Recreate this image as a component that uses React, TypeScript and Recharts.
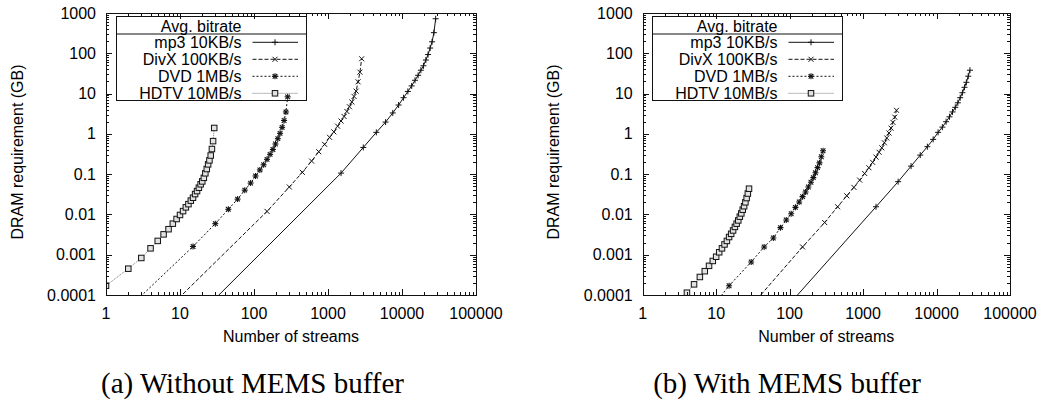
// DRAM requirement vs number of streams, without / with MEMS buffer (log-log, gnuplot look)
import React from "react"
import { LineChart, Line, XAxis, YAxis } from "recharts"

// number of streams per series (first point sits below the plotted range)
const streamsHdtvA = [1, 2, 3, 4, 5, 6, 7, 8, 9, 10, 11, 12, 13, 14, 15, 16, 17, 18, 19, 20, 21, 22, 23, 24, 25, 26, 27, 28, 29]
const streamsHdtvB = [3, 4, 5, 6, 7, 8, 9, 10, 11, 12, 13, 14, 15, 16, 17, 18, 19, 20, 21, 22, 23, 24, 25, 26, 27, 28]
const streamsDvd = [1, 15, 30, 45, 60, 75, 90, 105, 120, 135, 150, 165, 180, 195, 210, 225, 240, 255, 270, 285]
const streamsDivx = [1, 150, 300, 450, 600, 750, 900, 1050, 1200, 1350, 1500, 1650, 1800, 1950, 2100, 2250, 2400, 2550, 2700, 2850]
const streamsMp3 = [1, 1500, 3000, 4500, 6000, 7500, 9000, 10500, 12000, 13500, 15000, 16500, 18000, 19500, 21000, 22500, 24000, 25500, 27000, 28500]

// (a) without MEMS buffer, GB
const mp3A = [1.6e-7, 0.106, 0.46, 1.09, 1.96, 3.3, 5.2, 7.9, 11.3, 15.5, 21.4, 28.4, 38, 49, 68, 93, 135, 193, 325, 720]
const divxA = [1.4e-6, 0.0119, 0.048, 0.111, 0.211, 0.36, 0.55, 0.82, 1.12, 1.55, 2.08, 2.7, 3.6, 4.7, 6.2, 8.5, 11.5, 19.6, 34, 73]
const dvdA = [1.4e-5, 0.0016, 0.0059, 0.0134, 0.024, 0.04, 0.06, 0.09, 0.127, 0.171, 0.233, 0.31, 0.41, 0.56, 0.76, 1.03, 1.45, 2.15, 3.5, 8.3]
const hdtvA = [1.7e-4, 4.5e-4, 8.3e-4, 1.44e-3, 2.2e-3, 3.2e-3, 4.3e-3, 5.9e-3, 7.7e-3, 9.7e-3, 0.0121, 0.015, 0.018, 0.022, 0.026, 0.032, 0.038, 0.046, 0.056, 0.066, 0.081, 0.105, 0.134, 0.175, 0.22, 0.29, 0.42, 0.66, 1.4]

// (b) with MEMS buffer, GB
const mp3B = [4.8e-9, 0.0155, 0.065, 0.158, 0.297, 0.48, 0.73, 1.09, 1.47, 2.0, 2.65, 3.5, 4.55, 5.9, 7.9, 10.5, 14.3, 19, 27, 38]
const divxB = [4.3e-8, 0.00156, 0.0063, 0.0155, 0.029, 0.047, 0.071, 0.104, 0.144, 0.196, 0.265, 0.35, 0.45, 0.6, 0.79, 1.05, 1.39, 1.93, 2.6, 3.85]
const dvdB = [3e-7, 1.7e-4, 6.6e-4, 0.00156, 0.0026, 0.0047, 0.0073, 0.0104, 0.015, 0.0204, 0.0276, 0.036, 0.048, 0.063, 0.082, 0.108, 0.145, 0.19, 0.27, 0.38]
const hdtvB = [6.5e-5, 1.14e-4, 1.84e-4, 2.8e-4, 3.9e-4, 5.3e-4, 7e-4, 8.9e-4, 1.15e-3, 1.44e-3, 1.8e-3, 2.2e-3, 2.75e-3, 3.3e-3, 4.0e-3, 4.9e-3, 5.9e-3, 7.1e-3, 8.8e-3, 0.0106, 0.0131, 0.016, 0.02, 0.0255, 0.033, 0.0435]

const labels = ["mp3 10KB/s", "DivX 100KB/s", "DVD 1MB/s", "HDTV 10MB/s"]

const X_DOMAIN = [1, 100000]
const Y_DOMAIN = [0.0001, 1000]
const xDecades = [1, 10, 100, 1000, 10000, 100000]
const yDecades = [0.0001, 0.001, 0.01, 0.1, 1, 10, 100, 1000]
const minorSteps = [2, 3, 4, 5, 6, 7, 8, 9]

const withMinor = (dec: number[]) =>
  dec.flatMap((d, i) => (i < dec.length - 1 ? [d, ...minorSteps.map(m => d * m)] : [d]))
const xTicks = withMinor(xDecades)
const yTicks = withMinor(yDecades)

const SANS = "'Liberation Sans', Arial, Helvetica, sans-serif"
const SERIF = "'Liberation Serif', 'Times New Roman', serif"
const INK = "#111"

// chart geometry (shared by the LineChart margins and the border overlay)
const CH_H = 350
const M_TOP = 13
const M_BOTTOM = 25
const X_AXIS_H = 30
const Y_AXIS_W = 60
const PLOT_H = CH_H - M_TOP - M_BOTTOM - X_AXIS_H

type Style = { dash?: string; color: string; marker: string }
const STYLES: Style[] = [
  { color: INK, marker: "plus" },
  { color: INK, dash: "4 2", marker: "cross" },
  { color: INK, dash: "2 2", marker: "star" },
  { color: "#777", dash: "1 1", marker: "square" },
]

function Marker({ cx, cy, kind }: { cx: number; cy: number; kind: string }) {
  if (cx == null || cy == null || !isFinite(cx) || !isFinite(cy)) return null
  const s = 3
  if (kind === "plus")
    return (
      <g stroke={INK} strokeWidth={1}>
        <line x1={cx - s} x2={cx + s} y1={cy} y2={cy} />
        <line x1={cx} x2={cx} y1={cy - s} y2={cy + s} />
      </g>
    )
  if (kind === "cross")
    return (
      <g stroke={INK} strokeWidth={1}>
        <line x1={cx - 2.5} x2={cx + 2.5} y1={cy - 2.5} y2={cy + 2.5} />
        <line x1={cx - 2.5} x2={cx + 2.5} y1={cy + 2.5} y2={cy - 2.5} />
      </g>
    )
  if (kind === "star")
    return (
      <g stroke={INK} strokeWidth={1.1}>
        <line x1={cx - s} x2={cx + s} y1={cy} y2={cy} />
        <line x1={cx} x2={cx} y1={cy - s} y2={cy + s} />
        <line x1={cx - 2.3} x2={cx + 2.3} y1={cy - 2.3} y2={cy + 2.3} />
        <line x1={cx - 2.3} x2={cx + 2.3} y1={cy + 2.3} y2={cy - 2.3} />
      </g>
    )
  return <rect x={cx - 2.75} y={cy - 2.75} width={5.5} height={5.5} fill="#e2e2e2" stroke={INK} strokeWidth={1} />
}

function BottomLabel(p: any) {
  return (
    <text x={p.x} y={p.y + 18} textAnchor="middle" dominantBaseline="central" fontFamily={SANS} fontSize={16} fill="#000">
      {String(p.payload.value)}
    </text>
  )
}

function LeftLabel(p: any) {
  return (
    <text x={p.x - 10} y={p.y} textAnchor="end" dominantBaseline="central" fontFamily={SANS} fontSize={16} fill="#000">
      {String(p.payload.value)}
    </text>
  )
}

type Series = { n: number[]; v: number[] }

function Panel({ series, width, mLeft, mRight }: { series: Series[]; width: number; mLeft: number; mRight: number }) {
  return (
    <LineChart width={width} height={CH_H} margin={{ top: M_TOP, right: mRight, left: mLeft, bottom: M_BOTTOM }}>
      <XAxis xAxisId="b" type="number" dataKey="n" scale="log" domain={X_DOMAIN} allowDataOverflow
        ticks={xDecades} interval={0} height={X_AXIS_H} tickSize={0} tickMargin={0} tickLine={false}
        axisLine={false} tick={(p: any) => <BottomLabel {...p} />} />
      <YAxis yAxisId="l" type="number" scale="log" domain={Y_DOMAIN} allowDataOverflow
        ticks={yDecades} interval={0} width={Y_AXIS_W} tickSize={0} tickMargin={0} tickLine={false}
        axisLine={false} tick={(p: any) => <LeftLabel {...p} />} />
      {series.map((s, i) => (
        <Line key={labels[i]} xAxisId="b" yAxisId="l" type="linear" dataKey="v"
          data={s.n.map((n, k) => ({ n, v: s.v[k] }))}
          stroke={STYLES[i].color} strokeWidth={1} strokeDasharray={STYLES[i].dash}
          dot={(p: any) => <Marker key={`${i}-${p.index}`} cx={p.cx} cy={p.cy} kind={STYLES[i].marker} />}
          activeDot={false} isAnimationActive={false} />
      ))}
    </LineChart>
  )
}

// plot frame as a plain bordered box
function Frame({ left, width }: { left: number; width: number }) {
  return (
    <div style={{
      position: "absolute", left: Math.round(left), top: M_TOP, width: Math.round(width) + 1, height: PLOT_H + 1,
      border: `1px solid ${INK}`, boxSizing: "border-box", pointerEvents: "none",
    }} />
  )
}

// gnuplot-style inward major/minor ticks on all four sides
function TickMarks({ left, width }: { left: number; width: number }) {
  const h = PLOT_H
  const w = Math.round(width)
  const lx = (v: number) => (Math.log10(v) - Math.log10(X_DOMAIN[0])) / (Math.log10(X_DOMAIN[1]) - Math.log10(X_DOMAIN[0]))
  const ly = (v: number) => (Math.log10(v) - Math.log10(Y_DOMAIN[0])) / (Math.log10(Y_DOMAIN[1]) - Math.log10(Y_DOMAIN[0]))
  const sx = (v: number) => Math.round(lx(v) * w) + 0.5
  const sy = (v: number) => Math.round(h - ly(v) * h) + 0.5
  return (
    <svg style={{ position: "absolute", left: Math.round(left), top: M_TOP, overflow: "visible" }} width={w + 1} height={h + 1}>
      {xTicks.map(t => {
        const len = xDecades.includes(t) ? 6 : 3
        const x = sx(t)
        return (
          <g key={`x${t}`}>
            <line x1={x} x2={x} y1={h} y2={h - len} stroke={INK} strokeWidth={1} />
            <line x1={x} x2={x} y1={0} y2={len} stroke={INK} strokeWidth={1} />
          </g>
        )
      })}
      {yTicks.map(t => {
        const len = yDecades.includes(t) ? 6 : 3
        const y = sy(t)
        return (
          <g key={`y${t}`}>
            <line x1={0} x2={len} y1={y} y2={y} stroke={INK} strokeWidth={1} />
            <line x1={w} x2={w - len} y1={y} y2={y} stroke={INK} strokeWidth={1} />
          </g>
        )
      })}
    </svg>
  )
}

function KeyBox({ left }: { left: number }) {
  return (
    <svg style={{ position: "absolute", left, top: 16 }} width={192} height={86}>
      <rect x={0.5} y={0.5} width={190} height={84} fill="none" stroke={INK} />
      <line x1={0.5} x2={190.5} y1={18} y2={18} stroke={INK} />
      <text x={125.5} y={10} textAnchor="end" dominantBaseline="central" fontFamily={SANS} fontSize={16}>Avg. bitrate</text>
      {labels.map((l, i) => {
        const cy = 26.3 + 17 * i
        return (
          <g key={l}>
            <text x={125.5} y={cy} textAnchor="end" dominantBaseline="central" fontFamily={SANS} fontSize={16}>{l}</text>
            <line x1={136.5} x2={182} y1={cy} y2={cy} stroke={STYLES[i].color} strokeDasharray={STYLES[i].dash} />
            <Marker cx={159} cy={cy} kind={STYLES[i].marker} />
          </g>
        )
      })}
    </svg>
  )
}

const txt = (x: number, y: number, w: number, s: React.CSSProperties = {}): React.CSSProperties => ({
  position: "absolute", left: x - w / 2, top: y - 12, width: w, height: 24, lineHeight: "24px",
  textAlign: "center", fontFamily: SANS, fontSize: 16, color: "#000", whiteSpace: "nowrap", ...s,
})

const PANEL_A = { width: 520, mLeft: 46, mRight: 44 }
const PANEL_B = { width: 525, mLeft: 62.7, mRight: 35 }

export default function App() {
  const seriesA: Series[] = [
    { n: streamsMp3, v: mp3A }, { n: streamsDivx, v: divxA }, { n: streamsDvd, v: dvdA }, { n: streamsHdtvA, v: hdtvA },
  ]
  const seriesB: Series[] = [
    { n: streamsMp3, v: mp3B }, { n: streamsDivx, v: divxB }, { n: streamsDvd, v: dvdB }, { n: streamsHdtvB, v: hdtvB },
  ]
  const plotA = { left: PANEL_A.mLeft + Y_AXIS_W, width: PANEL_A.width - PANEL_A.mLeft - Y_AXIS_W - PANEL_A.mRight }
  const plotB = { left: PANEL_A.width + PANEL_B.mLeft + Y_AXIS_W, width: PANEL_B.width - PANEL_B.mLeft - Y_AXIS_W - PANEL_B.mRight }
  return (
    <div style={{ position: "absolute", left: 0, top: 0, width: 1045, height: 402 }}>
      <div style={{ display: "flex" }}>
        <Panel series={seriesA} {...PANEL_A} />
        <Panel series={seriesB} {...PANEL_B} />
      </div>
      <Frame {...plotA} />
      <Frame {...plotB} />
      <TickMarks {...plotA} />
      <TickMarks {...plotB} />
      <KeyBox left={116} />
      <KeyBox left={652} />
      <div style={txt(291, 337, 300)}>Number of streams</div>
      <div style={txt(826.3, 337, 300)}>Number of streams</div>
      <div style={txt(18.3, 152.3, 300, { transform: "rotate(-90deg)" })}>DRAM requirement (GB)</div>
      <div style={txt(554.3, 152.3, 300, { transform: "rotate(-90deg)" })}>DRAM requirement (GB)</div>
      <div style={txt(252.5, 383, 400, { fontFamily: SERIF, fontSize: 29, top: 368, height: 30, lineHeight: "30px" })}>(a) Without MEMS buffer</div>
      <div style={txt(787, 383, 400, { fontFamily: SERIF, fontSize: 29, top: 368, height: 30, lineHeight: "30px" })}>(b) With MEMS buffer</div>
    </div>
  )
}
